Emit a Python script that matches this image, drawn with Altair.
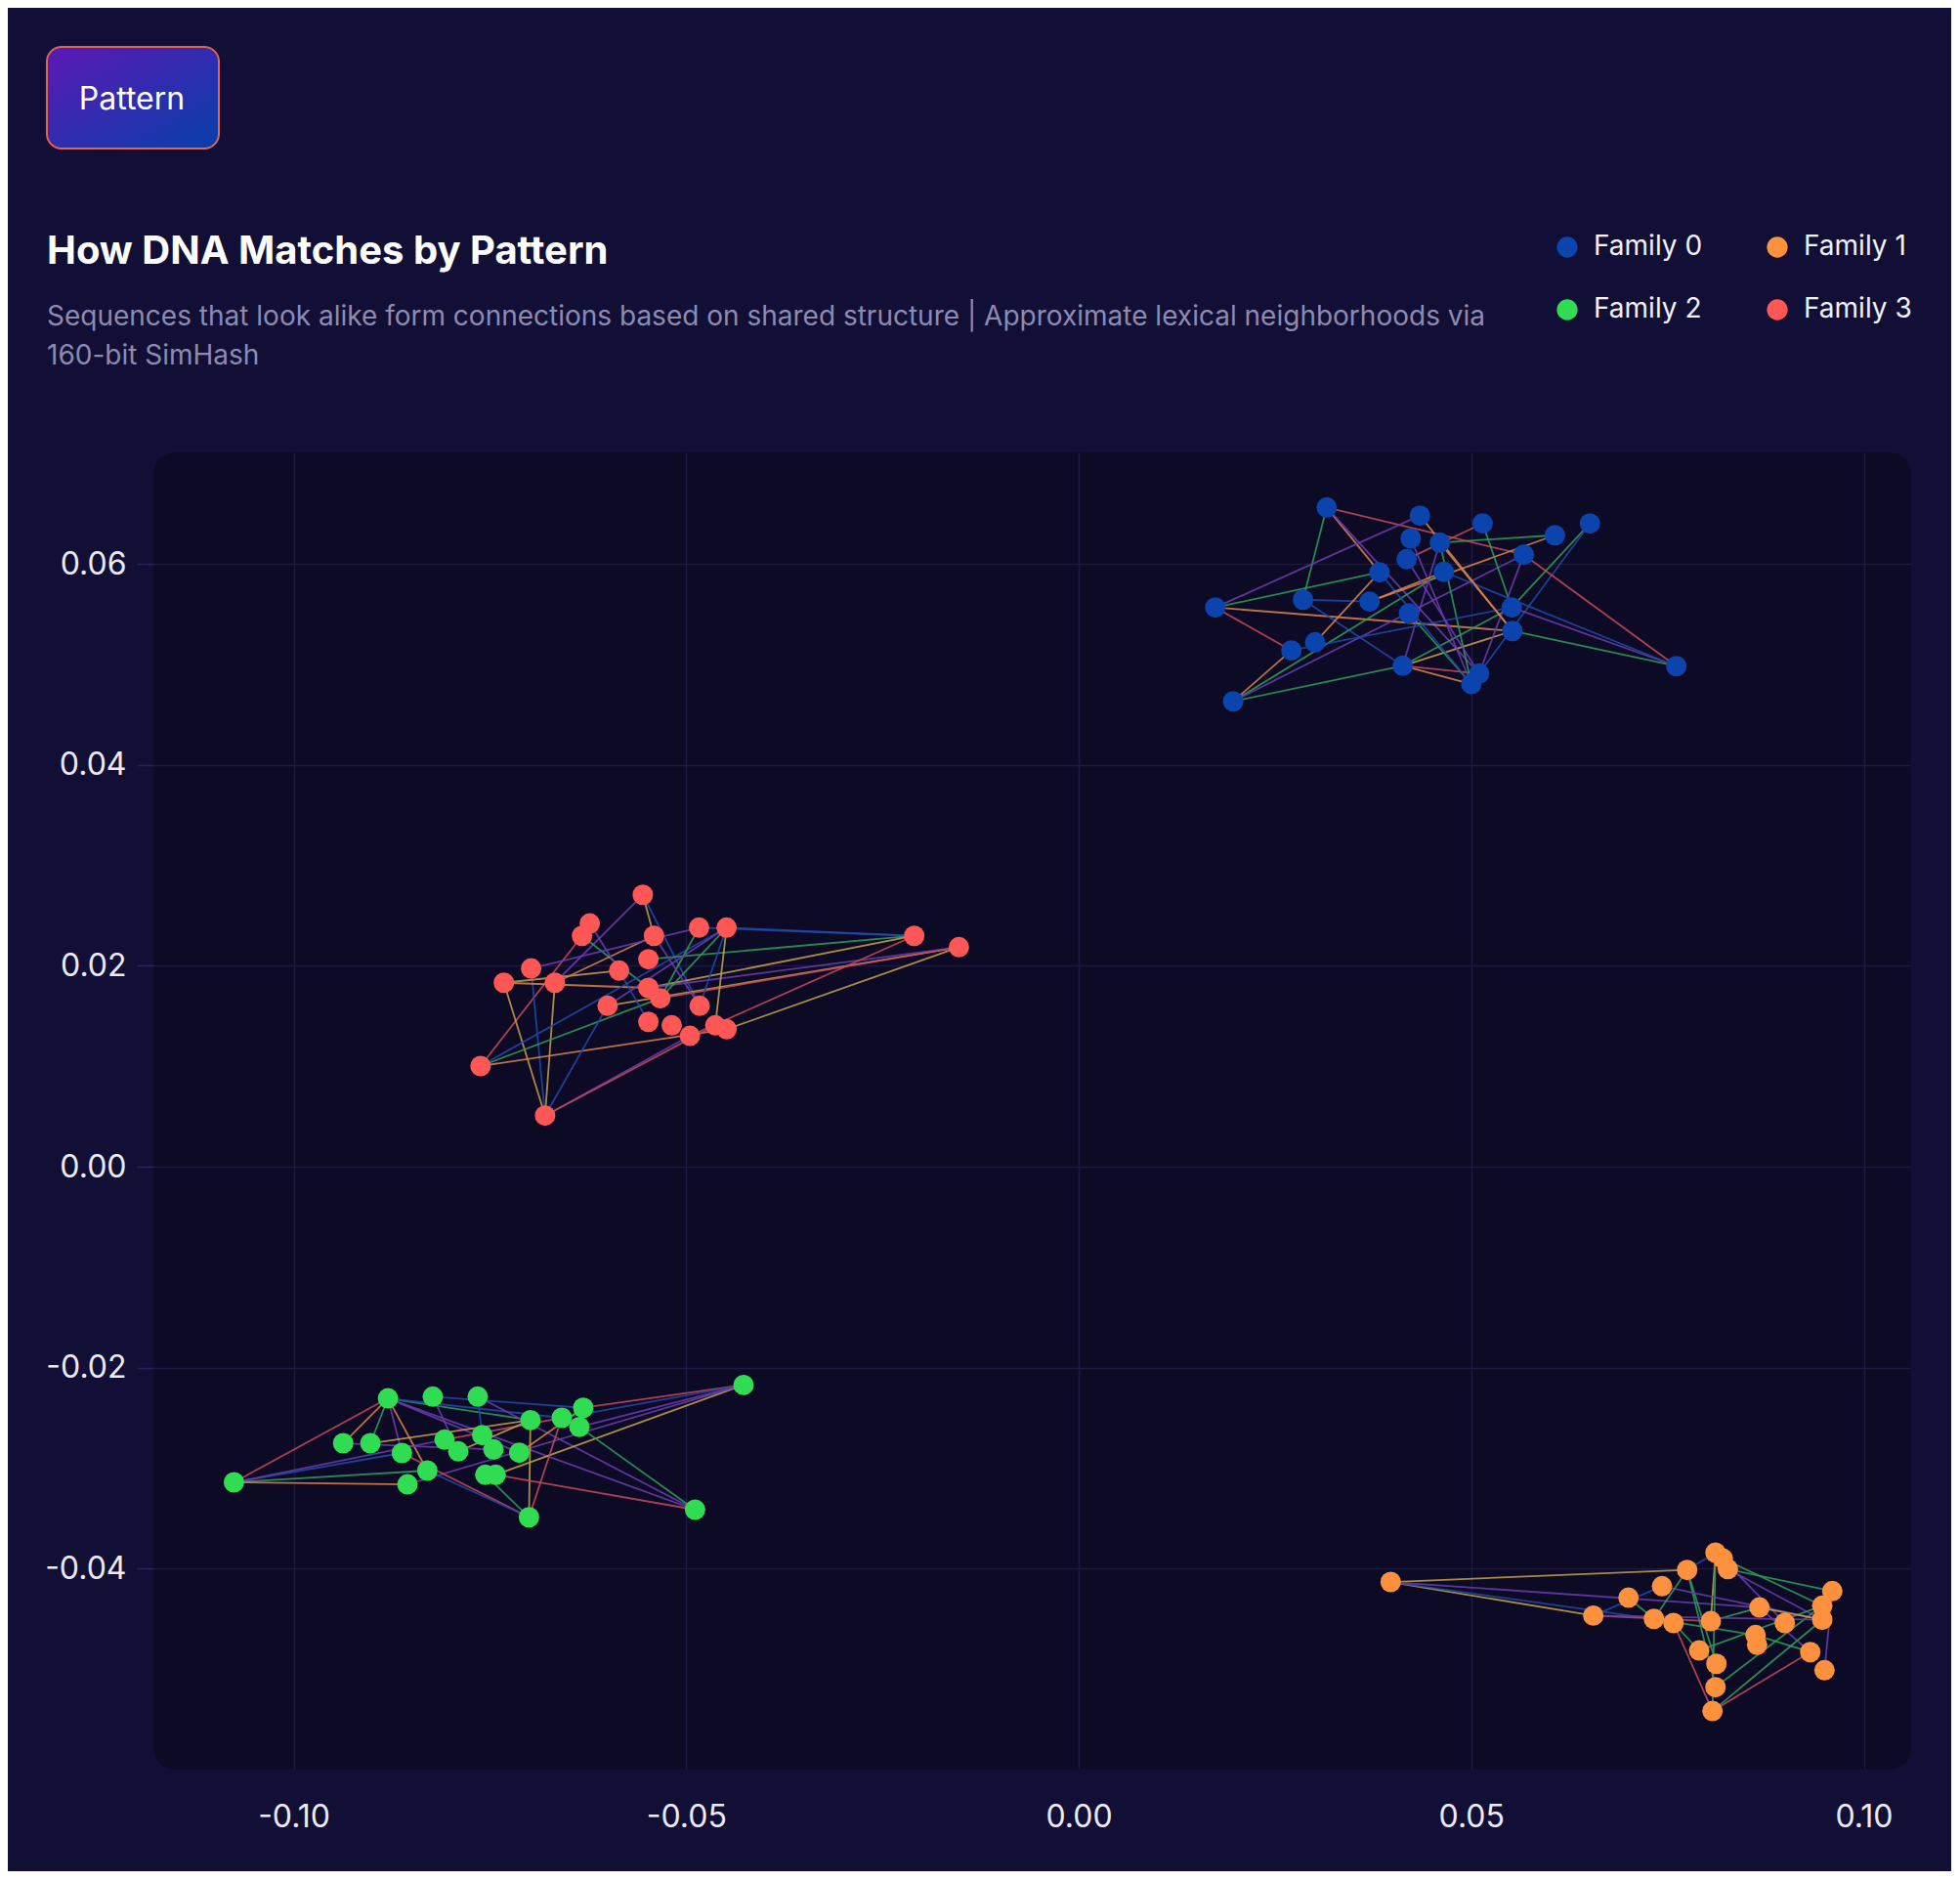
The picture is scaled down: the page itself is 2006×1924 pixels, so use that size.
import altair as alt
import pandas as pd

# ---------------- data ----------------
FAMILIES = ["Family 0", "Family 1", "Family 2", "Family 3"]
FAMILY_COLORS = ["#0b44ad", "#fd913d", "#30dd52", "#ff5656"]

EDGE_KINDS = ["blue", "purple", "green", "orange", "red", "gold"]
EDGE_COLORS = ["#2148a8", "#6a3cae", "#2f9d58", "#d9844a", "#c9485a", "#c4a14a"]

X_TICKS = [-0.10, -0.05, 0.00, 0.05, 0.10]
Y_TICKS = [-0.06, -0.04, -0.02, 0.00, 0.02, 0.04, 0.06]

# Family 0 (blue, top right)
f0_x = [0.03159, 0.04346, 0.05145, 0.06512, 0.06066, 0.04229, 0.04600, 0.05669,
        0.04177, 0.03832, 0.04652, 0.01740, 0.02857, 0.03705, 0.04207, 0.05516,
        0.05525, 0.03011, 0.02709, 0.04128, 0.05101, 0.05002, 0.07612, 0.01968]
f0_y = [0.06561, 0.06480, 0.06402, 0.06402, 0.06285, 0.06253, 0.06211, 0.06091,
        0.06046, 0.05916, 0.05920, 0.05566, 0.05643, 0.05624, 0.05507, 0.05566,
        0.05332, 0.05219, 0.05138, 0.04986, 0.04908, 0.04804, 0.04982, 0.04632]
f0_edges = [(1, 13, "green"), (1, 10, "orange"), (1, 8, "red"), (1, 21, "purple"),
            (12, 2, "purple"), (12, 10, "green"), (12, 17, "orange"), (12, 19, "red"),
            (13, 14, "blue"), (13, 20, "blue"), (14, 5, "orange"), (18, 10, "orange"),
            (24, 19, "orange"), (24, 11, "green"), (24, 8, "purple"), (24, 20, "green"),
            (20, 17, "gold"), (20, 16, "green"), (20, 21, "red"), (20, 22, "orange"),
            (7, 22, "green"), (7, 5, "green"), (7, 17, "orange"), (7, 20, "purple"),
            (3, 16, "green"), (3, 9, "red"), (4, 16, "green"), (4, 22, "blue"),
            (8, 23, "red"), (8, 21, "purple"), (16, 23, "purple"), (17, 23, "green"),
            (11, 23, "blue"), (6, 22, "purple"), (15, 22, "green"), (19, 16, "blue"),
            (2, 17, "orange"), (10, 22, "blue"), (14, 11, "orange"), (9, 21, "purple")]

# Family 1 (orange, bottom right)
f1_x = [0.03974, 0.08111, 0.08205, 0.08268, 0.07750, 0.07430, 0.07003, 0.06555,
        0.07327, 0.07576, 0.08052, 0.08671, 0.08994, 0.09599, 0.09471, 0.09471,
        0.08621, 0.08641, 0.07903, 0.08123, 0.09318, 0.09500, 0.08111, 0.08073]
f1_y = [-0.04133, -0.03841, -0.03900, -0.04004, -0.04013, -0.04175, -0.04289, -0.04467,
        -0.04500, -0.04541, -0.04522, -0.04386, -0.04541, -0.04223, -0.04369, -0.04509,
        -0.04661, -0.04758, -0.04814, -0.04947, -0.04830, -0.05011, -0.05180, -0.05417]
f1_edges = [(1, 5, "gold"), (1, 8, "gold"), (1, 9, "blue"), (1, 12, "purple"),
            (8, 6, "blue"), (8, 11, "red"), (7, 9, "green"), (5, 20, "green"),
            (5, 23, "green"), (2, 11, "gold"), (2, 24, "green"), (3, 15, "green"),
            (4, 14, "green"), (4, 16, "purple"), (10, 24, "red"), (10, 19, "green"),
            (11, 12, "green"), (12, 21, "purple"), (14, 22, "purple"), (15, 23, "green"),
            (16, 24, "green"), (17, 21, "green"), (21, 24, "red"), (6, 16, "purple"),
            (19, 15, "green"), (9, 17, "green"), (3, 13, "purple"), (2, 5, "blue"),
            (12, 16, "gold"), (5, 9, "green"), (8, 16, "purple")]

# Family 2 (green, bottom left)
f2_x = [-0.08798, -0.08227, -0.07655, -0.04269, -0.06311, -0.06584, -0.06360, -0.06983,
        -0.09369, -0.09022, -0.08621, -0.08078, -0.07903, -0.07598, -0.07455, -0.07126,
        -0.08297, -0.08550, -0.07559, -0.07426, -0.10760, -0.07002, -0.04887]
f2_y = [-0.02305, -0.02288, -0.02288, -0.02172, -0.02399, -0.02499, -0.02590, -0.02522,
        -0.02752, -0.02752, -0.02849, -0.02716, -0.02833, -0.02671, -0.02813, -0.02846,
        -0.03024, -0.03161, -0.03066, -0.03066, -0.03141, -0.03488, -0.03413]
f2_edges = [(21, 1, "red"), (21, 11, "blue"), (21, 12, "purple"), (21, 17, "green"),
            (21, 18, "orange"), (1, 9, "orange"), (1, 10, "green"), (1, 11, "purple"),
            (1, 17, "orange"), (1, 8, "green"), (1, 16, "purple"), (1, 23, "purple"),
            (1, 6, "blue"), (2, 5, "blue"), (3, 23, "purple"), (3, 14, "blue"),
            (4, 5, "red"), (4, 6, "blue"), (4, 7, "purple"), (4, 20, "gold"),
            (4, 18, "purple"), (8, 22, "gold"), (6, 22, "red"), (7, 23, "green"),
            (11, 22, "red"), (17, 22, "blue"), (19, 22, "green"), (20, 23, "red"),
            (16, 5, "orange"), (12, 6, "red"), (13, 8, "gold"), (10, 8, "gold"),
            (9, 15, "purple"), (2, 13, "purple")]

# Family 3 (red, centre left)
f3_x = [-0.05552, -0.06228, -0.06326, -0.05410, -0.04836, -0.04485, -0.02095, -0.01526,
        -0.05481, -0.06975, -0.05854, -0.07322, -0.06672, -0.05481, -0.05330, -0.06001,
        -0.04828, -0.05481, -0.05184, -0.04952, -0.04629, -0.04485, -0.07619, -0.06797]
f3_y = [0.02706, 0.02421, 0.02298, 0.02298, 0.02380, 0.02380, 0.02298, 0.02185,
        0.02065, 0.01974, 0.01952, 0.01831, 0.01831, 0.01780, 0.01676, 0.01602,
        0.01602, 0.01442, 0.01407, 0.01303, 0.01407, 0.01368, 0.01002, 0.00509]
f3_edges = [(1, 4, "gold"), (1, 13, "purple"), (1, 17, "blue"), (3, 14, "green"),
            (3, 23, "red"), (10, 24, "blue"), (12, 24, "gold"), (13, 24, "gold"),
            (12, 14, "orange"), (12, 11, "gold"), (23, 6, "blue"), (23, 15, "green"),
            (23, 22, "orange"), (24, 20, "purple"), (24, 21, "red"), (24, 16, "blue"),
            (6, 7, "blue"), (5, 7, "blue"), (9, 7, "green"), (14, 7, "gold"),
            (16, 8, "gold"), (14, 8, "purple"), (22, 8, "gold"), (20, 7, "red"),
            (15, 8, "red"), (6, 15, "green"), (5, 15, "green"), (6, 21, "gold"),
            (6, 17, "blue"), (4, 17, "purple"), (13, 4, "orange"), (10, 5, "purple"),
            (16, 6, "purple"), (2, 11, "purple"), (11, 18, "blue")]

TITLE = "How DNA Matches by Pattern"
SUBTITLE = ["Sequences that look alike form connections based on shared structure | Approximate lexical neighborhoods via",
            "160-bit SimHash"]
BADGE = "Pattern"

# ---------------- tables ----------------
fam_x = [f0_x, f1_x, f2_x, f3_x]
fam_y = [f0_y, f1_y, f2_y, f3_y]
fam_e = [f0_edges, f1_edges, f2_edges, f3_edges]

pt_rows, ed_rows = [], []
for fi, name in enumerate(FAMILIES):
    xs, ys = fam_x[fi], fam_y[fi]
    for k in range(len(xs)):
        pt_rows.append({"family": name, "x": xs[k], "y": ys[k]})
    for a, b, kind in fam_e[fi]:
        ed_rows.append({"family": name, "x": xs[a - 1], "y": ys[a - 1],
                        "x2": xs[b - 1], "y2": ys[b - 1], "kind": kind})
points_df = pd.DataFrame(pt_rows)
edges_df = pd.DataFrame(ed_rows)

# ---------------- chart ----------------
FONT = "Inter"
x_scale = alt.Scale(domain=[-0.11786, 0.10591], nice=False, zero=False)
y_scale = alt.Scale(domain=[-0.0599, 0.07109], nice=False, zero=False)
label_expr = "(datum.value < 0 ? '-' : '') + format(abs(datum.value), '.2f')"

x_axis = alt.Axis(values=X_TICKS, title=None, grid=True, ticks=False, domain=False,
                  labelExpr=label_expr, labelFontSize=32, labelColor="#ecebf5",
                  labelFont=FONT, labelPadding=34, gridColor="#1c1a40", gridWidth=1.5)
y_axis = alt.Axis(values=Y_TICKS, title=None, grid=True, ticks=True, tickSize=17,
                  tickColor="#26245a", tickWidth=1.5, domain=False,
                  labelExpr=label_expr, labelFontSize=32, labelColor="#ecebf5",
                  labelFont=FONT, labelPadding=11, gridColor="#1c1a40", gridWidth=1.5)

edges = alt.Chart(edges_df).mark_rule(strokeWidth=1.8, opacity=0.86).encode(
    x=alt.X("x:Q", scale=x_scale, axis=x_axis),
    y=alt.Y("y:Q", scale=y_scale, axis=y_axis),
    x2="x2:Q",
    y2="y2:Q",
    stroke=alt.Stroke("kind:N", scale=alt.Scale(domain=EDGE_KINDS, range=EDGE_COLORS),
                      legend=None),
)

points = alt.Chart(points_df).mark_circle(size=440, opacity=1).encode(
    x=alt.X("x:Q", scale=x_scale, axis=x_axis),
    y=alt.Y("y:Q", scale=y_scale, axis=y_axis),
    color=alt.Color("family:N", scale=alt.Scale(domain=FAMILIES, range=FAMILY_COLORS),
                    title=None,
                    legend=alt.Legend(orient="none", legendX=1433, legendY=-224,
                                      direction="horizontal",
                                      columns=2, columnPadding=62, rowPadding=36,
                                      symbolType="circle", symbolSize=452,
                                      symbolStrokeWidth=0, symbolOpacity=1,
                                      labelFontSize=28,
                                      labelFont=FONT, labelColor="#f2f1fa",
                                      labelOffset=13, padding=0)),
)

badge_rect = alt.Chart(pd.DataFrame({"t": [BADGE]})).mark_rect(
    cornerRadius=15, stroke="#e0644e", strokeWidth=2,
    fill={"gradient": "linear", "x1": 0, "y1": 0, "x2": 1, "y2": 1,
          "stops": [{"offset": 0, "color": "#5c18b6"}, {"offset": 1, "color": "#073fa8"}]},
).encode(x=alt.value(-109), x2=alt.value(67), y=alt.value(-415), y2=alt.value(-311))

badge_text = alt.Chart(pd.DataFrame({"t": [BADGE]})).mark_text(
    font=FONT, fontSize=32, color="#ffffff", align="center", baseline="alphabetic"
).encode(text="t:N", x=alt.value(-22), y=alt.value(-351))

title_text = alt.Chart(pd.DataFrame({"t": [TITLE]})).mark_text(
    font=FONT, fontSize=40, fontWeight="bold", color="#ffffff", align="left",
    baseline="alphabetic"
).encode(text="t:N", x=alt.value(-109), y=alt.value(-193))

sub_text1 = alt.Chart(pd.DataFrame({"t": [SUBTITLE[0]]})).mark_text(
    font=FONT, fontSize=28, color="#8d8bb0", align="left", baseline="alphabetic"
).encode(text="t:N", x=alt.value(-109), y=alt.value(-130))

sub_text2 = alt.Chart(pd.DataFrame({"t": [SUBTITLE[1]]})).mark_text(
    font=FONT, fontSize=28, color="#8d8bb0", align="left", baseline="alphabetic"
).encode(text="t:N", x=alt.value(-109), y=alt.value(-90))

chart = alt.layer(
    edges, points, badge_rect, badge_text, title_text, sub_text1, sub_text2
).properties(
    width=1798, height=1347,
    padding={"left": 149, "top": 455, "right": 42, "bottom": 105},
    autosize=alt.AutoSizeParams(type="none"),
    background="#110f36",
).configure(font=FONT).configure_view(
    fill="#0c0a25", stroke="transparent", cornerRadius=20
)

chart.save("out.html", embed_options={"renderer": "svg", "actions": False})
